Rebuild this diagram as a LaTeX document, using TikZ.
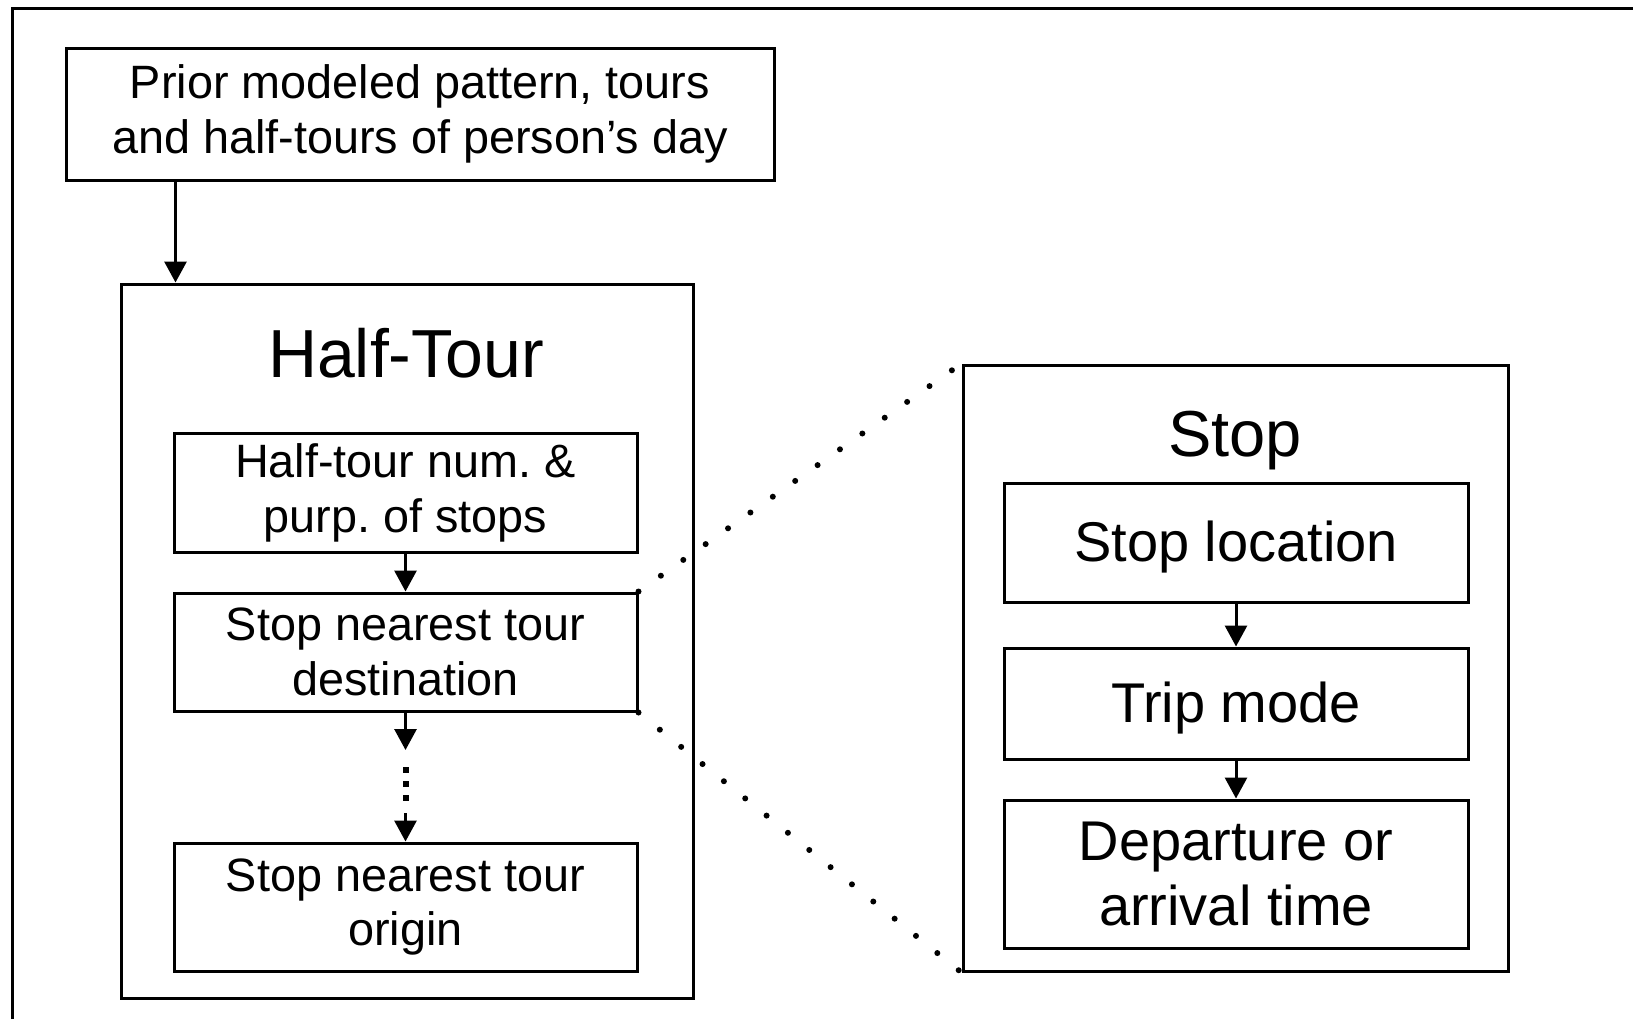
\documentclass[tikz,border=0pt]{standalone}
\usepackage{fontspec}
\setmainfont{Liberation Sans}
\usetikzlibrary{arrows.meta}

\tikzset{
    box/.style = {draw, line width = 1.5pt, align = center, inner sep = 0pt,
                  font = \fontsize{23.4}{27.5}\selectfont},
    bigbox/.style = {box, font = \fontsize{28}{32.5}\selectfont},
    frame/.style = {draw, line width = 1.5pt, inner sep = 0pt},
    title/.style = {anchor = base, inner sep = 0pt, font = \fontsize{32.5}{38}\selectfont},
    arr/.style = {line width = 1.5pt, -{Triangle[length = 10.5pt, width = 11pt]}},
    link/.style = {line width = 3pt, line cap = round, dash pattern = on 0pt off 13.7pt}
}

\begin{document}
\frenchspacing
\begin{tikzpicture}[x = 0.5pt, y = -0.5pt]
    \useasboundingbox (0, 0) rectangle (1633, 1019);
    \draw[line width = 1.5pt] (12, 1019) -- (12, 8) -- (1633, 8);
    \path   node[box, minimum width = 354pt, minimum height = 66pt] (prior) at (420, 114)
                {Prior modeled pattern, tours\\and half-tours of person’s day}
            node[frame, minimum width = 286pt, minimum height = 357pt] (ht) at (407, 641) {}
            node[title, font = \fontsize{34}{40}\selectfont] (httitle) at (406, 377) {Half-Tour}
            node[box, minimum width = 231.5pt, minimum height = 59.5pt] (ht1) at (405.5, 492.5)
                {Half-tour num. \&\\purp. of stops}
            node[box, minimum width = 231.5pt, minimum height = 59pt] (ht2) at (405.5, 652)
                {Stop nearest tour\\destination}
            node[box, minimum width = 231.5pt, minimum height = 64pt] (ht3) at (405.5, 907)
                {Stop nearest tour\\origin}
            node[frame, minimum width = 272.5pt, minimum height = 303pt] (st) at (1235.5, 668) {}
            node[title] (sttitle) at (1235, 456) {Stop}
            node[bigbox, text depth = 1.7pt, minimum width = 232pt, minimum height = 59.5pt] (st1) at (1236, 542.5)
                {Stop location}
            node[bigbox, text depth = 1.7pt, minimum width = 232pt, minimum height = 55.5pt] (st2) at (1236, 703.5)
                {Trip mode}
            node[bigbox, minimum width = 232pt, minimum height = 74pt] (st3) at (1236, 874)
                {Departure or\\arrival time};
    \coordinate (d1) at (405.5, 750);
    \coordinate (d2) at (405.5, 767);
    \coordinate (d3) at (405.5, 801);
    \coordinate (d4) at (405.5, 813);
    \draw[arr] ([xshift = 1.5pt]prior.south -| ht1.west) -- ([xshift = 1.5pt]ht.north -| ht1.west);
    \draw[arr] (ht1.south) -- (ht2.north);
    \draw[arr] (ht2.south) -- (d1);
    \draw[line width = 3pt, dash pattern = on 3pt off 4pt] (d2) -- (d3);
    \draw[arr] (d4) -- (ht3.north);
    \draw[arr] (st1.south) -- (st2.north);
    \draw[arr] (st2.south) -- (st3.north);
    \draw[link] (ht2.north east) -- (st.north west);
    \draw[link] (ht2.south east) -- (st.south west);
\end{tikzpicture}
\end{document}
